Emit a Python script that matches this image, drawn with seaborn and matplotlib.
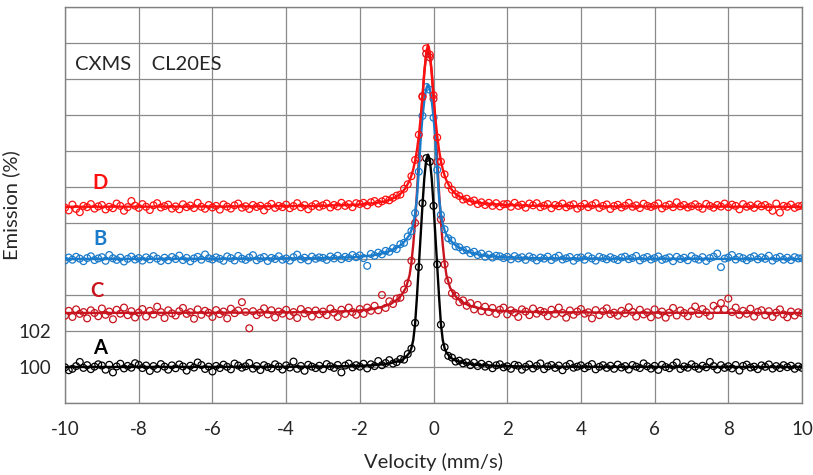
import numpy as np
import pandas as pd
import matplotlib
matplotlib.use("Agg")
import matplotlib.pyplot as plt
import seaborn as sns
from matplotlib.ticker import MultipleLocator, FixedLocator, FixedFormatter

# channel velocities of the measured points (mm/s)
VELOCITY = np.round(np.linspace(-10, 10, 201), 2)

# measured emission (%), one row per 1 mm/s
A_POINTS = [
    99.98, 99.82, 99.90, 100.05, 100.28, 99.95, 100.10, 99.88, 100.02, 100.15,
    100.08, 99.85, 100.12, 99.70, 100.03, 100.18, 99.92, 100.06, 99.96, 100.21,
    100.12, 99.94, 100.08, 99.78, 100.05, 99.90, 100.16, 100.02, 99.85, 100.09,
    99.93, 100.14, 100.03, 99.80, 100.07, 99.97, 100.25, 100.11, 99.89, 100.02,
    99.75, 100.06, 99.94, 100.13, 100.01, 99.87, 100.19, 100.08, 99.96, 100.04,
    100.22, 99.91, 100.05, 99.83, 100.10, 100.00, 99.92, 100.15, 100.03, 99.86,
    100.09, 99.97, 100.30, 99.90, 100.06, 99.79, 100.12, 100.02, 99.94, 100.07,
    99.88, 100.16, 100.04, 99.95, 100.11, 99.70, 100.08, 100.19, 99.98, 100.10,
    100.02, 100.18, 99.92, 100.15, 100.05, 100.33, 100.10, 100.22, 100.38, 100.19,
    100.27, 100.44, 100.41, 100.72, 101.02, 102.45, 105.55, 109.10, 111.60, 111.40,
    108.95, 105.70, 102.35, 101.10, 100.62, 100.52, 100.30, 100.35, 100.20, 100.26,
    100.10, 100.24, 100.05, 100.18, 100.02, 100.12, 99.93, 100.09, 100.15, 99.98,
    100.04, 99.90, 100.12, 100.07, 99.85, 100.01, 100.14, 99.92, 100.06, 100.20,
    99.88, 100.03, 100.11, 99.95, 100.08, 99.82, 100.05, 100.17, 99.96, 100.02,
    100.09, 99.93, 100.04, 100.16, 99.87, 100.01, 100.10, 99.95, 100.07, 99.90,
    100.13, 99.97, 100.05, 99.86, 100.11, 100.02, 99.94, 100.20, 100.04, 99.91,
    100.06, 99.84, 100.12, 100.00, 99.93, 100.08, 100.25, 99.89, 100.03, 99.96,
    100.15, 100.02, 99.90, 100.07, 99.98, 100.28, 100.05, 99.86, 100.10, 99.95,
    100.04, 99.92, 100.11, 99.80, 100.06, 100.13, 99.97, 100.02, 99.88, 100.09,
    100.01, 100.14, 99.91, 100.05, 99.94, 100.10, 99.99, 100.07, 99.90, 100.03,
    99.95,
]
C_POINTS = [
    102.85, 103.12, 102.78, 103.20, 102.95, 103.05, 102.70, 103.15, 103.00, 102.82,
    103.25, 102.90, 103.08, 102.65, 103.18, 102.96, 103.30, 102.88, 103.10, 102.75,
    103.02, 103.22, 102.80, 103.12, 102.92, 103.35, 103.05, 102.72, 103.15, 102.98,
    102.86, 103.10, 103.28, 102.95, 103.05, 102.68, 103.20, 102.90, 103.12, 103.01,
    102.78, 103.16, 102.94, 103.08, 102.70, 103.24, 102.99, 103.14, 103.60, 103.06,
    102.15, 103.10, 102.88, 103.02, 103.26, 102.92, 103.15, 102.75, 103.08, 102.96,
    103.18, 102.84, 103.05, 102.72, 103.22, 102.98, 103.11, 102.80, 103.14, 102.93,
    103.08, 102.88, 103.25, 103.02, 102.78, 103.18, 102.95, 103.30, 103.05, 102.90,
    103.22, 102.95, 103.30, 103.12, 103.40, 103.15, 104.00, 103.28, 103.65, 103.50,
    103.80, 103.85, 104.30, 104.65, 105.90, 108.00, 111.60, 115.05, 117.40, 117.20,
    114.90, 111.40, 108.20, 105.70, 104.80, 104.10, 103.95, 103.60, 103.70, 103.40,
    103.55, 103.20, 103.45, 103.10, 103.35, 103.05, 103.28, 102.95, 103.18, 103.30,
    102.92, 103.15, 103.02, 102.78, 103.20, 103.08, 102.88, 103.25, 102.96, 103.12,
    103.05, 102.82, 103.18, 102.95, 103.30, 103.00, 102.74, 103.14, 102.90, 103.08,
    103.22, 102.96, 103.04, 102.70, 103.16, 102.88, 103.10, 103.26, 102.94, 103.02,
    102.85, 103.12, 102.98, 103.32, 103.06, 102.80, 103.18, 102.92, 103.04, 102.76,
    103.20, 102.90, 103.08, 102.74, 103.02, 103.28, 102.86, 103.14, 103.00, 102.82,
    103.10, 103.36, 102.95, 103.22, 103.04, 102.84, 103.40, 103.18, 103.55, 103.20,
    103.80, 103.05, 103.30, 102.90, 103.12, 102.96, 103.24, 102.80, 103.06, 103.15,
    102.88, 103.10, 102.78, 103.02, 103.20, 102.92, 102.76, 103.08, 102.86, 103.04,
    102.98,
]
B_POINTS = [
    105.92, 106.08, 105.96, 106.12, 106.02, 105.88, 106.05, 106.15, 105.94, 106.03,
    106.10, 105.90, 106.22, 106.04, 105.95, 106.08, 105.86, 106.01, 106.13, 105.97,
    106.05, 105.91, 106.09, 105.98, 106.16, 106.02, 105.89, 106.07, 105.93, 106.11,
    106.00, 106.19, 105.94, 106.06, 105.87, 106.03, 106.12, 105.96, 106.25, 106.04,
    105.97, 106.09, 106.01, 105.90, 106.14, 106.05, 105.92, 106.17, 106.02, 105.95,
    106.08, 106.21, 105.93, 106.04, 106.11, 105.89, 106.06, 106.00, 106.15, 105.96,
    106.03, 105.91, 106.10, 106.24, 105.98, 106.07, 105.92, 106.13, 106.01, 106.09,
    106.06, 105.95, 106.14, 106.03, 106.18, 105.99, 106.12, 106.05, 106.22, 106.10,
    106.20, 106.05, 105.62, 106.28, 106.18, 106.35, 106.26, 106.45, 106.40, 106.60,
    106.55, 106.82, 106.90, 107.25, 107.55, 108.55, 110.85, 113.95, 115.55, 115.40,
    113.85, 110.95, 108.45, 107.65, 107.15, 107.02, 106.70, 106.65, 106.48, 106.50,
    106.32, 106.40, 106.22, 106.30, 106.12, 106.24, 106.08, 106.18, 106.15, 106.05,
    106.12, 105.98, 106.16, 106.03, 106.10, 105.95, 106.14, 106.06, 105.92, 106.08,
    106.02, 106.13, 105.94, 106.07, 106.18, 105.97, 106.04, 106.11, 105.90, 106.06,
    106.09, 105.96, 106.15, 106.03, 105.91, 106.12, 106.05, 105.98, 106.10, 106.01,
    105.94, 106.08, 106.13, 105.99, 106.06, 106.17, 105.92, 106.04, 106.11, 105.97,
    106.05, 106.14, 105.95, 106.02, 106.09, 105.88, 106.12, 106.00, 106.07, 105.93,
    106.16, 106.03, 105.96, 106.10, 105.89, 106.05, 106.13, 106.30, 105.55, 106.02,
    106.08, 106.22, 105.97, 106.11, 106.04, 105.93, 106.06, 106.15, 105.98, 106.09,
    106.01, 106.18, 105.91, 106.05, 106.12, 105.96, 106.07, 105.94, 106.10, 106.03,
    106.04,
]
D_POINTS = [
    108.85, 108.70, 109.02, 108.78, 108.60, 108.95, 108.88, 109.05, 108.80, 108.92,
    109.00, 108.75, 108.90, 108.82, 109.08, 108.95, 108.68, 108.88, 109.22, 108.96,
    108.84, 109.05, 108.90, 108.72, 108.98, 109.10, 108.86, 108.94, 109.02, 108.80,
    108.92, 108.76, 109.04, 108.88, 108.97, 108.83, 109.12, 108.90, 108.79, 109.00,
    108.86, 108.95, 108.74, 109.03, 108.91, 108.80, 108.98, 109.08, 108.85, 108.93,
    108.78, 109.00, 108.89, 108.96, 108.70, 108.92, 109.06, 108.84, 108.95, 108.88,
    109.02, 108.82, 108.94, 109.10, 108.87, 108.99, 108.76, 108.93, 109.05, 108.90,
    108.98, 109.08, 108.86, 109.00, 108.92, 109.12, 108.95, 109.05, 108.88, 109.10,
    109.05, 109.12, 108.98, 109.15, 109.22, 109.08, 109.20, 109.30, 109.26, 109.40,
    109.52, 109.58, 109.90, 110.15, 110.60, 111.50, 112.90, 115.00, 117.70, 117.35,
    115.10, 112.75, 111.40, 110.70, 110.10, 109.85, 109.60, 109.50, 109.30, 109.35,
    109.18, 109.25, 109.05, 109.15, 109.00, 109.12, 108.95, 109.10, 108.92, 109.04,
    109.06, 108.90, 109.12, 108.95, 109.02, 108.85, 109.08, 108.98, 109.10, 108.88,
    108.96, 109.05, 108.82, 109.00, 108.93, 109.08, 108.87, 108.97, 109.04, 108.80,
    108.92, 109.06, 108.88, 108.99, 109.10, 108.84, 108.95, 109.03, 108.78, 108.94,
    109.01, 108.86, 108.96, 109.12, 108.90, 108.98, 108.83, 109.07, 108.95, 108.89,
    108.97, 109.09, 108.81, 108.94, 109.02, 108.88, 109.15, 108.92, 109.00, 108.86,
    108.93, 109.04, 108.90, 108.79, 109.06, 108.95, 108.85, 109.00, 108.91, 109.08,
    108.88, 109.02, 108.95, 108.76, 109.05, 108.90, 108.97, 108.84, 109.03, 108.92,
    109.00, 108.87, 108.68, 109.08, 108.58, 108.95, 108.90, 109.02, 108.84, 108.93,
    108.96,
]

# fitted curves
FIT_VELOCITY = [-10, -5.15, -3.15, -2.15, -1.65, -1.35, -1.15, -0.95, -0.85, -0.75,
                -0.65, -0.6, -0.55, -0.5, -0.45, -0.4, -0.35, -0.3, -0.25, -0.2,
                -0.15,
                -0.1, -0.05, 0, 0.05, 0.1, 0.15, 0.2, 0.25, 0.3, 0.35,
                0.45, 0.55, 0.65, 0.85, 1.05, 1.35, 1.85, 2.85, 4.85, 10]
A_FIT = [100.00, 100.01, 100.02, 100.05, 100.10, 100.15, 100.22, 100.32, 100.40, 100.55,
         100.80, 101.05, 101.50, 102.40, 103.90, 105.60, 107.30, 109.00, 110.50, 111.50,
         111.80,
         111.50, 110.50, 109.00, 107.30, 105.60, 103.90, 102.40, 101.50, 101.05, 100.80,
         100.55, 100.40, 100.32, 100.22, 100.15, 100.10, 100.05, 100.02, 100.01, 100.00]
C_FIT = [103.00, 103.02, 103.05, 103.11, 103.22, 103.36, 103.52, 103.80, 104.05, 104.40,
         105.10, 105.80, 106.80, 108.10, 109.70, 111.50, 113.30, 115.00, 116.40, 117.30,
         117.60,
         117.30, 116.40, 115.00, 113.30, 111.50, 109.70, 108.10, 106.80, 105.80, 105.10,
         104.40, 104.05, 103.80, 103.52, 103.36, 103.22, 103.11, 103.05, 103.02, 103.00]
B_FIT = [106.00, 106.02, 106.04, 106.10, 106.20, 106.33, 106.48, 106.68, 106.85, 107.05,
         107.35, 107.60, 107.95, 108.50, 109.40, 110.90, 112.60, 113.90, 114.80, 115.45,
         115.70,
         115.45, 114.80, 113.90, 112.60, 110.90, 109.40, 108.50, 107.95, 107.60, 107.35,
         107.05, 106.85, 106.68, 106.48, 106.33, 106.20, 106.10, 106.04, 106.02, 106.00]
D_FIT = [108.90, 108.92, 108.95, 109.01, 109.09, 109.19, 109.32, 109.53, 109.71, 109.97,
         110.36, 110.64, 110.99, 111.45, 112.05, 112.83, 113.83, 115.04, 116.36, 117.46,
         117.90,
         117.46, 116.36, 115.04, 113.83, 112.83, 112.05, 111.45, 110.99, 110.64, 110.36,
         109.97, 109.71, 109.53, 109.32, 109.19, 109.09, 109.01, 108.95, 108.92, 108.90]

SAMPLES = ["A", "C", "B", "D"]
COLORS = {"A": "#000000", "C": "#C8141E", "B": "#1B7BCB", "D": "#FF1010"}
POINTS = {"A": A_POINTS, "C": C_POINTS, "B": B_POINTS, "D": D_POINTS}
FITS = {"A": A_FIT, "C": C_FIT, "B": B_FIT, "D": D_FIT}
LABEL_POS = {"D": (-9.05, 110.2), "B": (-9.05, 107.1), "C": (-9.13, 104.2), "A": (-9.05, 101.05)}

sns.set_style("white")
plt.rcParams["font.family"] = ["Lato", "DejaVu Sans"]
plt.rcParams["axes.unicode_minus"] = False

fig = plt.figure(figsize=(8.13, 4.75), dpi=100)
ax = fig.add_axes([0.080, 0.1516, 0.9065, 0.8337])

for i, s in enumerate(SAMPLES):
    df = pd.DataFrame({"velocity": VELOCITY, "emission": POINTS[s]})
    sns.scatterplot(data=df, x="velocity", y="emission", ax=ax, marker="o", s=24,
                    facecolors="none", edgecolor=COLORS[s], linewidth=0.9,
                    zorder=3 + i)
    fit = pd.DataFrame({"velocity": FIT_VELOCITY, "emission": FITS[s]})
    sns.lineplot(data=fit, x="velocity", y="emission", ax=ax, color=COLORS[s],
                 lw=1.7, zorder=3 + i, sort=False)
    ax.text(*LABEL_POS[s], s, color=COLORS[s], fontsize=14.5, fontweight="bold",
            ha="center", va="center")

ax.text(-9.73, 116.8, "CXMS    CL20ES", fontsize=14.5, ha="left", va="center")

ax.set_xlim(-10, 10)
ax.set_ylim(98, 120)
ax.xaxis.set_major_locator(MultipleLocator(2))
ax.xaxis.set_minor_locator(MultipleLocator(1))
ax.yaxis.set_minor_locator(MultipleLocator(1))
yt = np.arange(98, 121, 2)
ax.yaxis.set_major_locator(FixedLocator(yt))
ax.yaxis.set_major_formatter(FixedFormatter(["", "100", "102"] + [""] * (len(yt) - 3)))

ax.grid(True, which="major", color="#8a8a8a", lw=0.9)
ax.tick_params(which="both", direction="in", color="#808080", labelsize=13.5)
ax.tick_params(axis="x", which="major", length=0, pad=13)
ax.tick_params(axis="x", which="minor", length=5)
ax.tick_params(axis="y", which="both", length=6, pad=10)
for sp in ax.spines.values():
    sp.set_color("#808080")
    sp.set_linewidth(1.0)

ax.set_xlabel("Velocity (mm/s)", fontsize=14.5, labelpad=11)
ax.set_ylabel("Emission (%)", fontsize=14.5)
ax.yaxis.set_label_coords(-0.061, 0.5)

fig.savefig("out.png", dpi=100)
